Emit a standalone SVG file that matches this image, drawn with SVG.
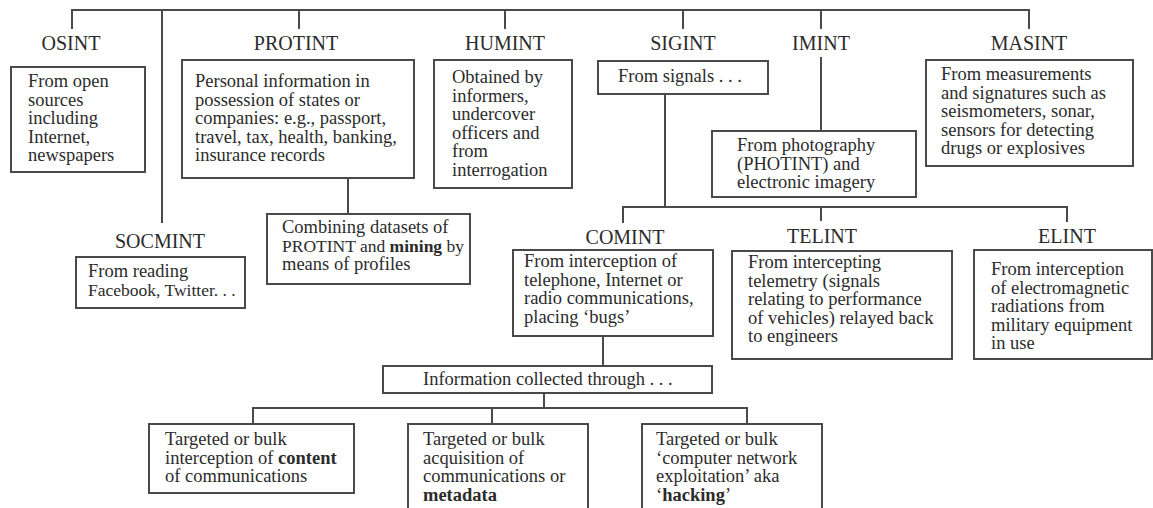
<svg xmlns="http://www.w3.org/2000/svg" width="1153" height="508" viewBox="0 0 1153 508">
<style>
.bg{fill:#fff}
.box{fill:#fff;stroke:#4a4a4a;stroke-width:2}
.ln{fill:none;stroke:#4a4a4a;stroke-width:2}
.h{font-family:"Liberation Serif","Times New Roman",serif;font-size:20px;fill:#2b2b2b;text-anchor:middle}
.t{font-family:"Liberation Serif","Times New Roman",serif;font-size:18.5px;fill:#2b2b2b}
.s{font-size:17.5px}
.b{font-weight:bold}
</style>
<rect class="bg" x="0" y="0" width="1153" height="508"/>
<g id="connectors">
<polyline class="ln" points="72,29 72,10 1029,10 1029,29"/>
<line class="ln" x1="162" y1="10" x2="162" y2="223"/>
<line class="ln" x1="299" y1="10" x2="299" y2="29"/>
<line class="ln" x1="505" y1="10" x2="505" y2="29"/>
<line class="ln" x1="683" y1="10" x2="683" y2="29"/>
<line class="ln" x1="821" y1="10" x2="821" y2="29"/>
<line class="ln" x1="821" y1="57" x2="821" y2="131"/>
<line class="ln" x1="348" y1="178" x2="348" y2="214"/>
<line class="ln" x1="665" y1="94" x2="665" y2="207"/>
<polyline class="ln" points="623,223 623,207 1067,207 1067,222"/>
<line class="ln" x1="821" y1="207" x2="821" y2="221"/>
<line class="ln" x1="603" y1="336" x2="603" y2="366"/>
<line class="ln" x1="544" y1="393" x2="544" y2="408"/>
<polyline class="ln" points="253,424 253,408 747,408 747,424"/>
<line class="ln" x1="492" y1="408" x2="492" y2="424"/>
</g>
<g id="osint">
<text class="h" x="71" y="50">OSINT</text>
<rect class="box" x="11" y="67" width="134" height="105"/>
<text class="t" x="28" y="87">From open</text>
<text class="t" x="28" y="105.5">sources</text>
<text class="t" x="28" y="124">including</text>
<text class="t" x="28" y="142.5">Internet,</text>
<text class="t" x="28" y="161">newspapers</text>
</g>
<g id="protint">
<text class="h" x="296" y="50">PROTINT</text>
<rect class="box" x="182" y="60" width="232" height="118"/>
<text class="t" x="195" y="87">Personal information in</text>
<text class="t" x="195" y="105.5">possession of states or</text>
<text class="t" x="195" y="124">companies: e.g., passport,</text>
<text class="t" x="195" y="142.5">travel, tax, health, banking,</text>
<text class="t" x="195" y="161">insurance records</text>
</g>
<g id="combining">
<rect class="box" x="267" y="214" width="203" height="70"/>
<text class="t" x="282" y="233">Combining datasets of</text>
<text class="t s" x="282" y="251.5">PROTINT and <tspan class="b">mining</tspan> by</text>
<text class="t" x="282" y="270">means of profiles</text>
</g>
<g id="socmint">
<text class="h" x="160" y="248">SOCMINT</text>
<rect class="box" x="76" y="257" width="169" height="51"/>
<text class="t" x="88" y="277">From reading</text>
<text class="t s" x="88" y="295.5">Facebook, Twitter. . .</text>
</g>
<g id="humint">
<text class="h" x="505" y="50">HUMINT</text>
<rect class="box" x="434" y="60" width="138" height="128"/>
<text class="t" x="452" y="83">Obtained by</text>
<text class="t" x="452" y="101.5">informers,</text>
<text class="t" x="452" y="120">undercover</text>
<text class="t" x="452" y="138.5">officers and</text>
<text class="t" x="452" y="157">from</text>
<text class="t" x="452" y="175.5">interrogation</text>
</g>
<g id="sigint">
<text class="h" x="683" y="50">SIGINT</text>
<rect class="box" x="598" y="61" width="170" height="33"/>
<text class="t" x="618" y="82">From signals . . .</text>
</g>
<g id="imint">
<text class="h" x="821" y="50">IMINT</text>
<rect class="box" x="712" y="131" width="204" height="66"/>
<text class="t" x="737" y="151">From photography</text>
<text class="t" x="737" y="169.5">(PHOTINT) and</text>
<text class="t" x="737" y="188">electronic imagery</text>
</g>
<g id="masint">
<text class="h" x="1029" y="50">MASINT</text>
<rect class="box" x="926" y="60" width="207" height="106"/>
<text class="t" x="941" y="80">From measurements</text>
<text class="t" x="941" y="98.5">and signatures such as</text>
<text class="t" x="941" y="117">seismometers, sonar,</text>
<text class="t" x="941" y="135.5">sensors for detecting</text>
<text class="t" x="941" y="154">drugs or explosives</text>
</g>
<g id="comint">
<text class="h" x="625" y="244">COMINT</text>
<rect class="box" x="513" y="250" width="200" height="86"/>
<text class="t" x="524" y="267">From interception of</text>
<text class="t" x="524" y="285.5">telephone, Internet or</text>
<text class="t" x="524" y="304">radio communications,</text>
<text class="t" x="524" y="322.5">placing ‘bugs’</text>
</g>
<g id="telint">
<text class="h" x="822" y="243">TELINT</text>
<rect class="box" x="732" y="251" width="220" height="108"/>
<text class="t" x="748" y="268">From intercepting</text>
<text class="t" x="748" y="286.5">telemetry (signals</text>
<text class="t" x="748" y="305">relating to performance</text>
<text class="t" x="748" y="323.5">of vehicles) relayed back</text>
<text class="t" x="748" y="342">to engineers</text>
</g>
<g id="elint">
<text class="h" x="1067" y="243">ELINT</text>
<rect class="box" x="974" y="250" width="178" height="109"/>
<text class="t" x="991" y="275">From interception</text>
<text class="t" x="991" y="293.5">of electromagnetic</text>
<text class="t" x="991" y="312">radiations from</text>
<text class="t" x="991" y="330.5">military equipment</text>
<text class="t" x="991" y="349">in use</text>
</g>
<g id="info">
<rect class="box" x="383" y="366" width="329" height="27"/>
<text class="t" x="423" y="385">Information collected through . . .</text>
</g>
<g id="content">
<rect class="box" x="149" y="424" width="205" height="69"/>
<text class="t" x="165" y="445">Targeted or bulk</text>
<text class="t" x="165" y="463.5">interception of <tspan class="b">content</tspan></text>
<text class="t" x="165" y="482">of communications</text>
</g>
<g id="metadata">
<rect class="box" x="408" y="424" width="180" height="100"/>
<text class="t" x="423" y="445">Targeted or bulk</text>
<text class="t" x="423" y="463.5">acquisition of</text>
<text class="t" x="423" y="482">communications or</text>
<text class="t b" x="423" y="500.5">metadata</text>
</g>
<g id="hacking">
<rect class="box" x="642" y="424" width="180" height="100"/>
<text class="t" x="656" y="445">Targeted or bulk</text>
<text class="t" x="656" y="463.5">‘computer network</text>
<text class="t" x="656" y="482">exploitation’ aka</text>
<text class="t" x="656" y="500.5">‘<tspan class="b">hacking</tspan>’</text>
</g>
</svg>
